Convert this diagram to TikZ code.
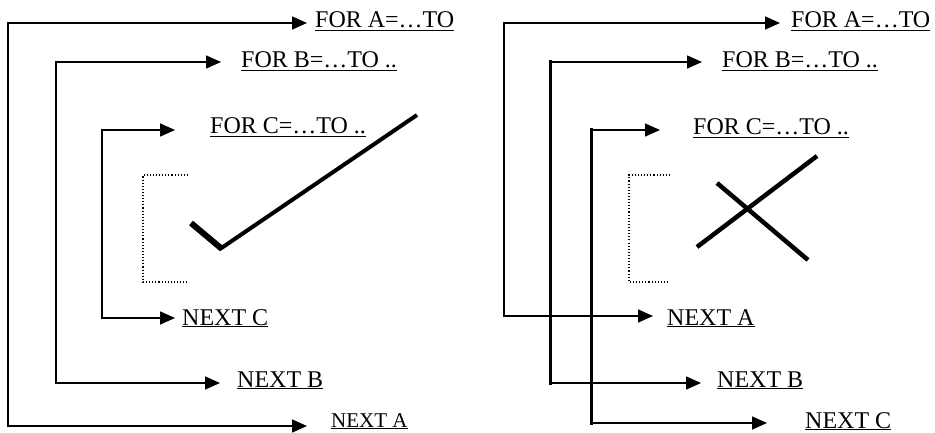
\documentclass[tikz,border=0pt]{standalone}
\usepackage{fontspec}
\setmainfont{Liberation Serif}
\usetikzlibrary{arrows.meta}
\begin{document}
\begin{tikzpicture}[x=1pt,y=-1pt]
    \def\barWidth{2.6pt}
    \def\armWidth{1.6pt}
    \tikzset{
        armArrow/.style={-{Triangle[length=15pt,width=13pt]}, line width=\armWidth},
        loopBar/.style={line width=\barWidth, line cap=rect},
        loopLabel/.style={anchor=base west, inner sep=0pt, font=\fontsize{24}{28}\selectfont},
        bodyBracket/.style={dotted, line width=1.1pt},
        tickStroke/.style={line width=#1, line cap=butt}
    }
    \useasboundingbox (0,0) rectangle (935,433);

    % Left: loops closed in the right order
    \node[loopLabel] (lForA) at (315,28) {\underline{FOR A=…TO}};
    \node[loopLabel] (lForB) at (241,68) {\underline{FOR B=…TO ..}};
    \node[loopLabel] (lForC) at (210,134) {\underline{FOR C=…TO ..}};
    \node[loopLabel] (lNextC) at (182,325) {\underline{NEXT C}};
    \node[loopLabel] (lNextB) at (237,387) {\underline{NEXT B}};
    \node[loopLabel, font=\fontsize{21}{25}\selectfont] (lNextA) at (331,427) {\underline{NEXT A}};

    \coordinate (lTopA) at (8,23);
    \coordinate (lBotA) at (8,426);
    \coordinate (lTopB) at (56,62);
    \coordinate (lBotB) at (56,383);
    \coordinate (lTopC) at (102,130);
    \coordinate (lBotC) at (102,318);

    \draw[armArrow, shorten >=8pt] (lTopA) -- (lTopA -| lForA.west);
    \draw[armArrow, shorten >=24pt] (lBotA) -- (lBotA -| lNextA.west);
    \draw[armArrow, shorten >=20pt] (lTopB) -- (lTopB -| lForB.west);
    \draw[armArrow, shorten >=17pt] (lBotB) -- (lBotB -| lNextB.west);
    \draw[armArrow, shorten >=35pt] (lTopC) -- (lTopC -| lForC.west);
    \draw[armArrow, shorten >=7pt] (lBotC) -- (lBotC -| lNextC.west);

    \draw[loopBar] (lTopA) -- (lBotA);
    \draw[loopBar] (lTopB) -- (lBotB);
    \draw[loopBar] (lTopC) -- (lBotC);

    % Loop body and tick
    \draw[bodyBracket] (188,175) -- (143,175) -- (143,282) -- (188,282);
    \draw[tickStroke=6pt] (191,223) -- (222,249);
    \draw[tickStroke=4pt] (220,249) -- (417,115);

    % Right: loops closed in the wrong order
    \node[loopLabel] (rForA) at (791,28) {\underline{FOR A=…TO}};
    \node[loopLabel] (rForB) at (722,68) {\underline{FOR B=…TO ..}};
    \node[loopLabel] (rForC) at (693,135) {\underline{FOR C=…TO ..}};
    \node[loopLabel] (rNextA) at (667,325) {\underline{NEXT A}};
    \node[loopLabel] (rNextB) at (717,387) {\underline{NEXT B}};
    \node[loopLabel] (rNextC) at (805,428) {\underline{NEXT C}};

    \coordinate (rTopA) at (504,23);
    \coordinate (rBotA) at (504,316);
    \coordinate (rTopB) at (550,62);
    \coordinate (rBotB) at (550,383);
    \coordinate (rTopC) at (591,130);
    \coordinate (rBotC) at (591,423);

    \draw[armArrow, shorten >=11pt] (rTopA) -- (rTopA -| rForA.west);
    \draw[armArrow, shorten >=14pt] (rBotA) -- (rBotA -| rNextA.west);
    \draw[armArrow, shorten >=20pt] (rTopB) -- (rTopB -| rForB.west);
    \draw[armArrow, shorten >=16pt] (rBotB) -- (rBotB -| rNextB.west);
    \draw[armArrow, shorten >=33pt] (rTopC) -- (rTopC -| rForC.west);
    \draw[armArrow, shorten >=38pt] (rBotC) -- (rBotC -| rNextC.west);

    \draw[loopBar, line width=2pt] (rTopA) -- (rBotA);
    \draw[loopBar, line width=3pt] (rTopB) -- (rBotB);
    \draw[loopBar, line width=3pt] (rTopC) -- (rBotC);

    % Loop body and cross
    \draw[bodyBracket] (670,175) -- (629,175) -- (629,282) -- (670,282);
    \draw[tickStroke=4.5pt] (717,183) -- (808,260);
    \draw[tickStroke=4.5pt] (817,156) -- (697,247);

\end{tikzpicture}
\end{document}
